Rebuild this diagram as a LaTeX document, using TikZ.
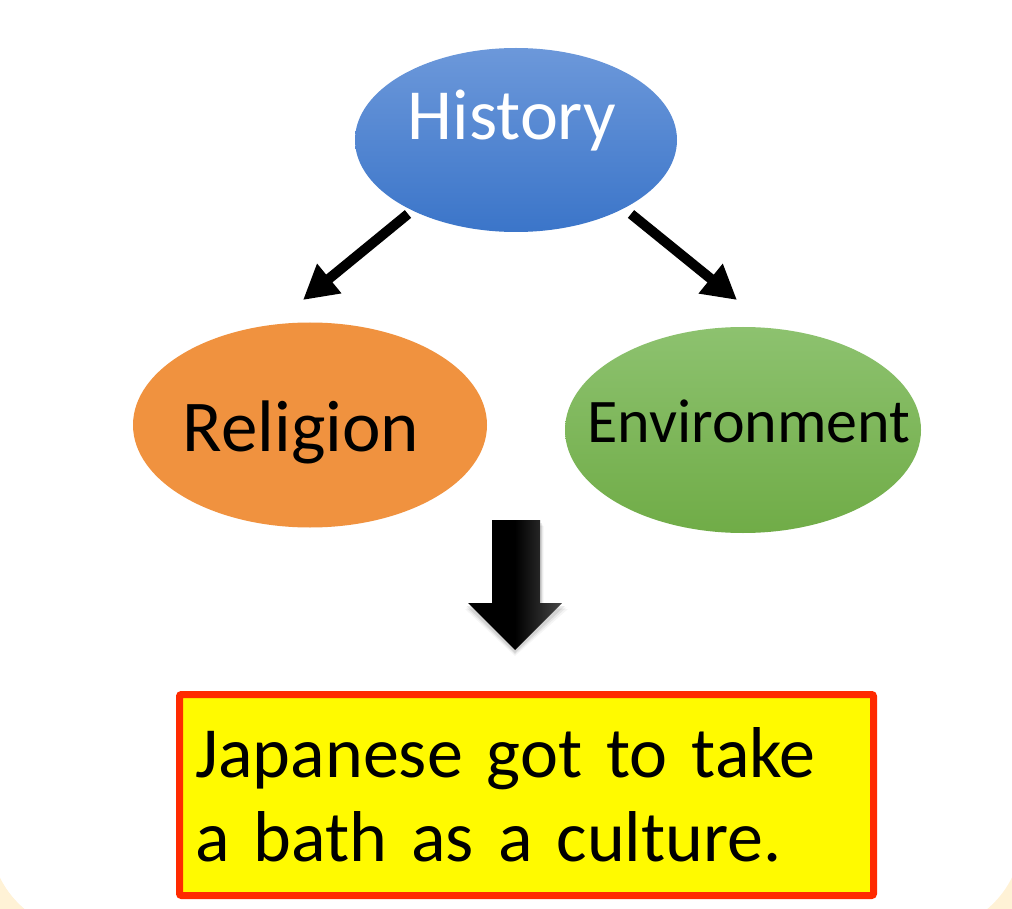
\documentclass[tikz,border=0pt]{standalone}
\usepackage{fontspec}
\setmainfont{Carlito}
\usetikzlibrary{shapes.geometric,arrows.meta}
\definecolor{cream}{HTML}{FFF2D6}
\definecolor{histtop}{HTML}{6C98DA}
\definecolor{histbot}{HTML}{3B75C9}
\definecolor{relfill}{HTML}{F0923F}
\definecolor{envtop}{HTML}{8DC26F}
\definecolor{envbot}{HTML}{70AC47}
\definecolor{boxred}{HTML}{FF2A00}
\definecolor{boxyellow}{HTML}{FFFA00}
\tikzset{
  bubble/.style={ellipse, inner sep=0pt, text height=#1, text depth=0pt},
  thinarrow/.style={line width=10pt, -{Triangle[length=34pt,width=36pt]}},
}
\begin{document}
\begin{tikzpicture}[x=1pt,y=-1pt]
\useasboundingbox (0,0) rectangle (1012,909);
\begin{scope}
\clip (0,0) rectangle (1012,909);
\fill[cream] (-10,760) -- (-10,932) -- (90,932) [rounded corners=98pt] -- (-10,932) [sharp corners] -- cycle;
\fill[cream] (-10,800) rectangle (120,940);
\fill[white] (-20,-20) -- (1022,-20) [rounded corners=98pt] -- (1022,932) -- (-10,932) [sharp corners] -- (-10,-20) -- cycle;
\end{scope}
\begin{scope}
\clip (0,0) rectangle (1012,909);
\fill[cream] (900,800) rectangle (1030,940);
\fill[white] (-20,-20) -- (1022,-20) [rounded corners=98pt] -- (1022,932) -- (-10,932) [sharp corners] -- (-10,-20) -- cycle;
\end{scope}

\node[bubble=0pt, minimum width=322pt, minimum height=184pt,
      top color=histtop, bottom color=histbot, text=white,
      font=\fontsize{72}{80}\selectfont] (hist) at (516,140)
      {\makebox[0pt]{History\kern8pt}};
\node[bubble=52pt, minimum width=354pt, minimum height=205pt,
      fill=relfill, text=black,
      font=\fontsize{73}{80}\selectfont] (rel) at (310,425)
      {\makebox[0pt]{Religion\kern18pt}};
\node[bubble=24pt, minimum width=356pt, minimum height=206pt,
      top color=envtop, bottom color=envbot, text=black,
      font=\fontsize{62}{70}\selectfont] (env) at (743,430)
      {\makebox[0pt]{\kern12pt Environment}};

\coordinate (a1s) at (408,214);
\coordinate (a1e) at (303,300);
\coordinate (a2s) at (631,214);
\coordinate (a2e) at (737,300);
\draw[thinarrow] (a1s) -- (a1e);
\draw[thinarrow] (a2s) -- (a2e);

% block arrow with soft shadow
\foreach \o/\a in {6/0.04,4.5/0.06,3/0.08}{
  \fill[black, opacity=\a] (492+\o*0.4,520+\o) -- (540+\o*0.6,520+\o) -- (540+\o*0.6,603+\o) -- (562+\o,603+\o) -- (515,650+\o) -- (468-\o*0.5,603+\o) -- (492+\o*0.4,603+\o) -- cycle;
}
\shade[left color=black, right color=black!72, middle color=black]
  (492,520) -- (540,520) -- (540,603) -- (562,603) -- (515,650) -- (468,603) -- (492,603) -- cycle;

\node[draw=boxred, line width=7pt, fill=boxyellow, rounded corners=2pt,
      minimum width=694pt, minimum height=201pt, inner xsep=16pt,
      text width=662pt, align=left, text=black,
      font=\fontsize{72}{84}\selectfont] (box) at (526.5,795)
      {Japanese got to take\\a bath as a culture.};
\end{tikzpicture}
\end{document}
